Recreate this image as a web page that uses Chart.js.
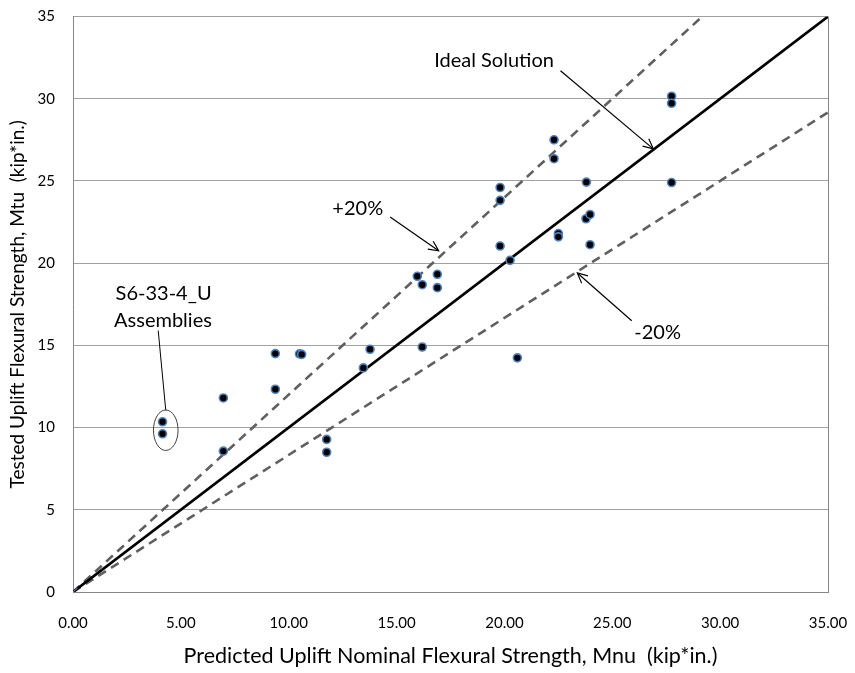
<!DOCTYPE html>
<html>
<head>
<meta charset="utf-8">
<script src="https://cdn.jsdelivr.net/npm/chart.js@4/dist/chart.umd.min.js"></script>
<style>
  html, body { margin: 0; padding: 0; background: #fff; }
  #wrap { width: 855px; height: 673px; position: relative; }
</style>
</head>
<body>
<div id="wrap"><canvas id="c" width="855" height="673"></canvas></div>
<script>
// ---- Data ----
const predictedMnu = [4.15, 4.15, 6.97, 6.97, 9.38, 9.38, 10.5, 10.6, 11.76, 11.76, 13.46, 13.77, 15.96, 16.19, 16.19, 16.89, 16.89, 19.8, 19.8, 19.8, 20.26, 20.6, 22.3, 22.3, 22.5, 22.5, 23.8, 23.78, 23.97, 23.97, 27.75, 27.75, 27.75];
const testedMtu    = [10.35, 9.62, 11.8, 8.57, 14.5, 12.33, 14.48, 14.45, 9.28, 8.5, 13.63, 14.76, 19.2, 18.69, 14.9, 19.32, 18.51, 24.6, 23.82, 21.04, 20.17, 14.24, 27.5, 26.35, 21.8, 21.6, 24.93, 22.7, 22.96, 21.12, 30.15, 29.72, 24.9];

const idealLineX = [0, 35];
const idealLineY = [0, 35];
const plus20X = [0, 29.17];
const plus20Y = [0, 35];
const minus20X = [0, 35];
const minus20Y = [0, 29.17];
const originX = [0];
const originY = [0];

const xTicks = [0, 5, 10, 15, 20, 25, 30, 35];
const yTicks = [0, 5, 10, 15, 20, 25, 30, 35];

const xTitle = 'Predicted Uplift Nominal Flexural Strength, Mnu  (kip*in.)';
const yTitle = 'Tested Uplift Flexural Strength, Mtu  (kip*in.)';

// annotation anchors (data coordinates)
const annIdealText = {x: 19.52, y: 32.3, text: 'Ideal Solution'};
const annIdealArrow = {x1: 22.6, y1: 31.7, x2: 26.9, y2: 26.95};
const annPlusText = {x: 13.2, y: 23.3, text: '+20%'};
const annPlusArrow = {x1: 14.7, y1: 22.8, x2: 16.95, y2: 20.75};
const annMinusText = {x: 27.1, y: 15.8, text: '-20%'};
const annMinusArrow = {x1: 25.9, y1: 16.5, x2: 23.38, y2: 19.4};
const annAssemblyText1 = {x: 4.2, y: 18.15, text: 'S6-33-4_U'};
const annAssemblyText2 = {x: 4.17, y: 16.5, text: 'Assemblies'};
const annAssemblyLeader = {x1: 3.95, y1: 15.9, x2: 4.3, y2: 11.05};
const annAssemblyEllipse = {x: 4.3, y: 9.84, rx: 0.57, ry: 1.23};

const toXY = (xs, ys) => xs.map((x, i) => ({x: x, y: ys[i]}));

const FONT = 'Lato, "Open Sans", sans-serif';

const annotationPlugin = {
  id: 'annotations',
  afterDatasetsDraw(chart) {
    const ctx = chart.ctx;
    const xs = chart.scales.x, ys = chart.scales.y;
    const px = v => xs.getPixelForValue(v);
    const py = v => ys.getPixelForValue(v);
    const ca = chart.chartArea;
    ctx.save();
    // right frame border
    ctx.strokeStyle = '#868686';
    ctx.lineWidth = 1;
    ctx.beginPath();
    ctx.moveTo(Math.round(ca.right) + 0.5, ca.top);
    ctx.lineTo(Math.round(ca.right) + 0.5, ca.bottom);
    ctx.stroke();

    ctx.fillStyle = '#000';
    ctx.font = '20px ' + FONT;
    ctx.textAlign = 'center';
    ctx.textBaseline = 'middle';
    [annIdealText, annPlusText, annMinusText, annAssemblyText1, annAssemblyText2].forEach(t => {
      ctx.fillText(t.text, px(t.x), py(t.y));
    });

    ctx.strokeStyle = '#000';
    ctx.lineWidth = 1.2;
    const arrow = a => {
      const x1 = px(a.x1), y1 = py(a.y1), x2 = px(a.x2), y2 = py(a.y2);
      ctx.beginPath();
      ctx.moveTo(x1, y1); ctx.lineTo(x2, y2); ctx.stroke();
      const ang = Math.atan2(y2 - y1, x2 - x1);
      const L = 11, s = 0.45;
      ctx.beginPath();
      ctx.moveTo(x2 - L * Math.cos(ang - s), y2 - L * Math.sin(ang - s));
      ctx.lineTo(x2, y2);
      ctx.lineTo(x2 - L * Math.cos(ang + s), y2 - L * Math.sin(ang + s));
      ctx.stroke();
    };
    arrow(annIdealArrow);
    arrow(annPlusArrow);
    arrow(annMinusArrow);

    ctx.lineWidth = 1;
    ctx.beginPath();
    ctx.moveTo(px(annAssemblyLeader.x1), py(annAssemblyLeader.y1));
    ctx.lineTo(px(annAssemblyLeader.x2), py(annAssemblyLeader.y2));
    ctx.stroke();

    const e = annAssemblyEllipse;
    const cx = px(e.x), cy = py(e.y);
    const rx = Math.abs(px(e.x + e.rx) - cx), ry = Math.abs(py(e.y + e.ry) - cy);
    ctx.strokeStyle = '#404040';
    ctx.beginPath();
    ctx.ellipse(cx, cy, rx, ry, 0, 0, Math.PI * 2);
    ctx.stroke();
    ctx.restore();
  }
};

new Chart(document.getElementById('c'), {
  type: 'scatter',
  data: {
    datasets: [
      {
        label: 'Tests',
        data: toXY(predictedMnu, testedMtu),
        pointRadius: 4,
        pointBackgroundColor: '#000',
        pointBorderColor: '#4f81bd',
        pointBorderWidth: 1.6,
        showLine: false
      },
      {
        label: 'Origin',
        data: toXY(originX, originY),
        pointStyle: 'crossRot',
        pointRadius: 6,
        pointBorderColor: '#8064a2',
        pointBorderWidth: 1.2,
        showLine: false
      },
      {
        label: 'Ideal',
        data: toXY(idealLineX, idealLineY),
        showLine: true,
        borderColor: '#000',
        borderWidth: 2.6,
        pointRadius: 0
      },
      {
        label: '+20%',
        data: toXY(plus20X, plus20Y),
        showLine: true,
        borderColor: '#606060',
        borderWidth: 2.6,
        borderDash: [9, 6],
        pointRadius: 0
      },
      {
        label: '-20%',
        data: toXY(minus20X, minus20Y),
        showLine: true,
        borderColor: '#606060',
        borderWidth: 2.6,
        borderDash: [9, 6],
        pointRadius: 0
      }
    ]
  },
  options: {
    responsive: false,
    animation: false,
    layout: { padding: { left: 0, top: 16.5, right: 27, bottom: 0 } },
    plugins: {
      legend: { display: false },
      tooltip: { enabled: false }
    },
    scales: {
      x: {
        type: 'linear',
        min: 0, max: 35,
        afterBuildTicks: s => { s.ticks = xTicks.map(v => ({value: v})); },
        afterFit: s => { s.height = 81; s.paddingLeft = 0; s.paddingRight = 0; },
        ticks: {
          color: '#000',
          font: { family: FONT, size: 15 },
          padding: 22,
          maxRotation: 0,
          callback: v => Number(v).toFixed(2)
        },
        grid: { display: false, drawTicks: false },
        border: { display: true, color: '#868686', width: 1 },
        title: {
          display: true,
          text: xTitle,
          color: '#000',
          font: { family: FONT, size: 21.5 },
          padding: { top: 6, bottom: 4 }
        }
      },
      y: {
        type: 'linear',
        min: 0, max: 35,
        afterBuildTicks: s => { s.ticks = yTicks.map(v => ({value: v})); },
        afterFit: s => { s.width = 73; s.paddingTop = 0; s.paddingBottom = 0; },
        ticks: {
          color: '#000',
          font: { family: FONT, size: 15 },
          padding: 18
        },
        grid: { color: '#a0a0a0', lineWidth: 1, drawTicks: false },
        border: { display: true, color: '#868686', width: 1 },
        title: {
          display: true,
          text: yTitle,
          color: '#000',
          font: { family: FONT, size: 19 },
          padding: { top: 6, bottom: 0 }
        }
      }
    }
  },
  plugins: [annotationPlugin]
});
</script>
</body>
</html>
